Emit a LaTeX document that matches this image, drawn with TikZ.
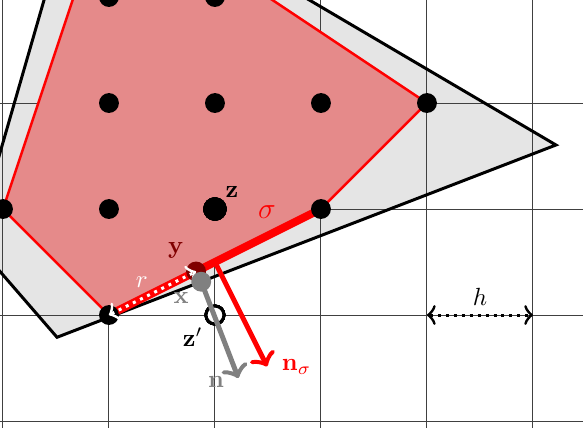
\documentclass[tikz,border=0pt]{standalone}
\usepackage{xcolor}
\usepackage{amsmath}
\usepackage{tikz}
\usetikzlibrary{calc,arrows.meta}
\definecolor{hullred}{RGB}{229,138,138}
\definecolor{cellgray}{RGB}{229,229,229}
\definecolor{ydark}{RGB}{128,0,0}
\definecolor{xgray}{RGB}{128,128,128}
\newcommand{\latdot}[2]{\fill (#1) circle (#2);}
\tikzset{
  gridline/.style={black!75, line width=0.4pt},
  outline/.style={black, line width=1.2pt, line join=miter},
  hulledge/.style={red, line width=1pt, fill=hullred},
  sigmaline/.style={red, line width=3.2pt},
  normalarrow/.style={line width=2pt, -{Classical TikZ Rightarrow[length=5pt,width=11pt]}},
  distarrow/.style={line width=1.2pt, dotted,
    {Classical TikZ Rightarrow[length=3.5pt,width=8pt]}-{Classical TikZ Rightarrow[length=3.5pt,width=8pt]}},
}

\begin{document}
\begin{tikzpicture}[x=1.5cm,y=1.5cm]
  \useasboundingbox (-0.028,-0.057) rectangle (5.472,3.972);
  \clip (-0.028,-0.057) rectangle (5.472,3.972);
  % outer cell
  \coordinate (qL) at (-0.27,1.69);
  \coordinate (qB) at (0.51,0.79);
  \coordinate (qR) at (5.217,2.604);
  \coordinate (qT) at (0.75,5.23);
  \fill[cellgray] (qL) -- (qB) -- (qR) -- (qT) -- cycle;
  \draw[gridline, step=1.5cm] (-1,-1) grid (6,5);
  % lattice hull
  \coordinate (p02) at (0,2);
  \coordinate (p11) at (1,1);
  \coordinate (p32) at (3,2);
  \coordinate (p43) at (4,3);
  \coordinate (p15) at (1,5);
  \filldraw[hulledge] (p02) -- (p11) -- (p32) -- (p43) -- (p15) -- cycle;
  \draw[outline] (qL) -- (qB) -- (qR) -- (qT) -- cycle;
  % points x, y and the midpoint of sigma
  \coordinate (X) at ($(qB)!0.289!(qR)$);
  \coordinate (Y) at ($(p11)!(X)!(p32)$);
  \coordinate (M) at ($(p11)!0.5!(p32)$);
  \coordinate (nsEnd) at ($(M)!1.65cm!-90:(p32)$);
  \coordinate (nEnd) at ($(X)!1.46cm!-90:(qR)$);
  \draw[normalarrow, red] (M) -- (nsEnd);
  \draw[sigmaline] (p11) -- (p32);
  % lattice points
  \foreach \px/\py in {1/4,2/4,1/3,2/3,3/3,4/3,0/2,1/2,3/2,1/1}
    \latdot{\px,\py}{4pt}
  \latdot{2,2}{4.7pt}
  \draw[line width=1.2pt, fill=white] (2,1) circle (3.6pt);
  \fill[ydark] (Y) circle (4pt);
  \draw[distarrow, white] (p11) -- (Y);
  \draw[normalarrow, xgray] (X) -- (nEnd);
  \fill[xgray] (X) circle (4pt);
  % spacing
  \coordinate (h1) at (4,1);
  \coordinate (h2) at (5,1);
  \draw[distarrow, black] (h1) -- (h2);
  % labels
  \node (zlab) at (2.16,2.16) {$\mathbf{z}$};
  \node[text=red] (siglab) at (2.49,1.97) {\large$\sigma$};
  \node[text=ydark] (ylab) at (1.63,1.61) {$\mathbf{y}$};
  \node[text=white] (rlab) at (1.31,1.31) {$r$};
  \node[text=xgray] (xlab) at (1.68,1.16) {$\mathbf{x}$};
  \node (zplab) at (1.79,0.79) {$\mathbf{z}'$};
  \node[text=xgray] (nlab) at (2.01,0.37) {$\mathbf{n}$};
  \node[text=red] (nslab) at (2.77,0.51) {$\mathbf{n}_\sigma$};
  \node (hlab) at (4.5,1.17) {$h$};
\end{tikzpicture}
\end{document}
